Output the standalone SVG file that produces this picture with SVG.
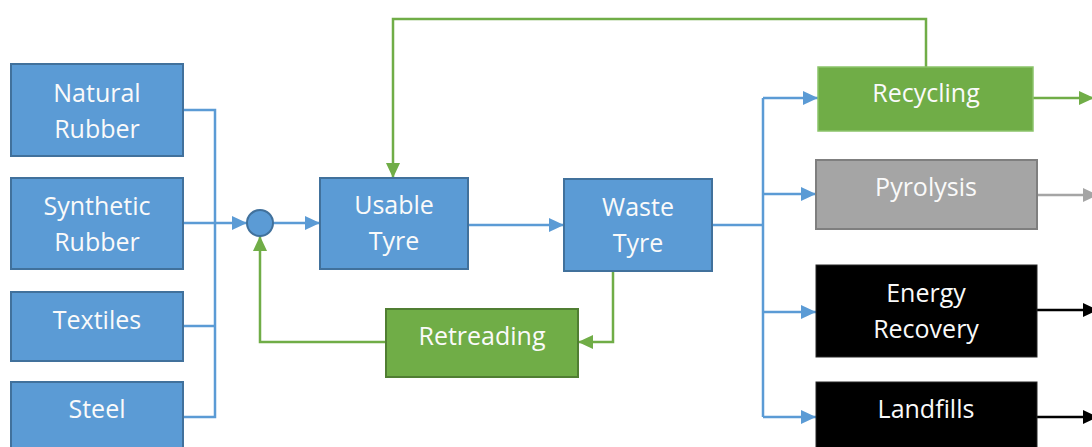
<svg xmlns="http://www.w3.org/2000/svg" width="1092" height="447" viewBox="0 0 1092 447">
  <style>
    .blue { fill: #5B9BD5; stroke: #41719C; stroke-width: 2; }
    .green { fill: #70AD47; stroke: #507E32; stroke-width: 2; }
    .green-soft { fill: #70AD47; stroke: #8BC36A; stroke-width: 1.5; }
    .grey { fill: #A5A5A5; stroke: #7F7F7F; stroke-width: 2; }
    .black { fill: #000000; stroke: #262626; stroke-width: 1; }
    text { font-family: "Open Sans", "Liberation Sans", sans-serif; font-size: 25px; fill: #FAFAFA; text-anchor: middle; }
    .c { fill: none; stroke-width: 2.5; }
    .cb { stroke: #5B9BD5; }
    .cg { stroke: #70AD47; }
    .cy { stroke: #A5A5A5; }
    .ck { stroke: #000000; }
  </style>
  <defs>
    <marker id="ab" viewBox="0 0 15 14" refX="15" refY="7" markerWidth="15" markerHeight="14" markerUnits="userSpaceOnUse" orient="auto">
      <path d="M0,0 L15,7 L0,14 z" fill="#5B9BD5"/>
    </marker>
    <marker id="ag" viewBox="0 0 15 14" refX="15" refY="7" markerWidth="15" markerHeight="14" markerUnits="userSpaceOnUse" orient="auto">
      <path d="M0,0 L15,7 L0,14 z" fill="#70AD47"/>
    </marker>
    <marker id="ay" viewBox="0 0 15 14" refX="15" refY="7" markerWidth="15" markerHeight="14" markerUnits="userSpaceOnUse" orient="auto">
      <path d="M0,0 L15,7 L0,14 z" fill="#A5A5A5"/>
    </marker>
    <marker id="ak" viewBox="0 0 15 14" refX="15" refY="7" markerWidth="15" markerHeight="14" markerUnits="userSpaceOnUse" orient="auto">
      <path d="M0,0 L15,7 L0,14 z" fill="#000000"/>
    </marker>
  </defs>

  <g id="connectors">
    <!-- raw materials into the merge point -->
    <path class="c cb" d="M183,110 H215 V417 H183"/>
    <path class="c cb" d="M183,326 H215"/>
    <path class="c cb" d="M183,223 H247" marker-end="url(#ab)"/>
    <path class="c cb" d="M273,223 H320" marker-end="url(#ab)"/>
    <!-- usable to waste -->
    <path class="c cb" d="M468,225 H564" marker-end="url(#ab)"/>
    <!-- waste tyre fan-out -->
    <path class="c cb" d="M712,225 H763"/>
    <path class="c cb" d="M763,98 V417"/>
    <path class="c cb" d="M763,98 H818" marker-end="url(#ab)"/>
    <path class="c cb" d="M763,194 H816" marker-end="url(#ab)"/>
    <path class="c cb" d="M763,312 H816" marker-end="url(#ab)"/>
    <path class="c cb" d="M763,417 H816" marker-end="url(#ab)"/>
    <!-- retreading loop -->
    <path class="c cg" d="M613,271 V342 H578" marker-end="url(#ag)"/>
    <path class="c cg" d="M386,342 H260 V236" marker-end="url(#ag)"/>
    <!-- recycling loop back to usable tyre -->
    <path class="c cg" d="M926,67 V19 H393 V178" marker-end="url(#ag)"/>
    <!-- outputs -->
    <path class="c cg" d="M1033,98 H1094" marker-end="url(#ag)"/>
    <path class="c cy" d="M1037,195 H1098" marker-end="url(#ay)"/>
    <path class="c ck" d="M1037,310 H1098" marker-end="url(#ak)"/>
    <path class="c ck" d="M1037,417 H1098" marker-end="url(#ak)"/>
  </g>

  <g id="natural-rubber">
    <rect class="blue" x="11" y="64" width="172" height="92"/>
    <text x="97" y="102">Natural</text>
    <text x="97" y="138">Rubber</text>
  </g>
  <g id="synthetic-rubber">
    <rect class="blue" x="11" y="178" width="172" height="91"/>
    <text x="97" y="215">Synthetic</text>
    <text x="97" y="251">Rubber</text>
  </g>
  <g id="textiles">
    <rect class="blue" x="11" y="292" width="172" height="69"/>
    <text x="97" y="329">Textiles</text>
  </g>
  <g id="steel">
    <rect class="blue" x="11" y="382" width="172" height="70"/>
    <text x="97" y="418">Steel</text>
  </g>
  <g id="merge">
    <circle class="blue" cx="260" cy="223" r="13"/>
  </g>
  <g id="usable-tyre">
    <rect class="blue" x="320" y="178" width="148" height="91"/>
    <text x="394" y="214">Usable</text>
    <text x="394" y="250">Tyre</text>
  </g>
  <g id="waste-tyre">
    <rect class="blue" x="564" y="179" width="148" height="92"/>
    <text x="638" y="216">Waste</text>
    <text x="638" y="252">Tyre</text>
  </g>
  <g id="retreading">
    <rect class="green" x="386" y="309" width="192" height="68"/>
    <text x="482" y="345">Retreading</text>
  </g>
  <g id="recycling">
    <rect class="green-soft" x="818" y="67" width="215" height="64"/>
    <text x="926" y="102">Recycling</text>
  </g>
  <g id="pyrolysis">
    <rect class="grey" x="816" y="160" width="221" height="69"/>
    <text x="926" y="196">Pyrolysis</text>
  </g>
  <g id="energy-recovery">
    <rect class="black" x="816" y="265" width="221" height="92"/>
    <text x="926" y="302">Energy</text>
    <text x="926" y="338">Recovery</text>
  </g>
  <g id="landfills">
    <rect class="black" x="816" y="382" width="221" height="70"/>
    <text x="926" y="418">Landfills</text>
  </g>
</svg>
